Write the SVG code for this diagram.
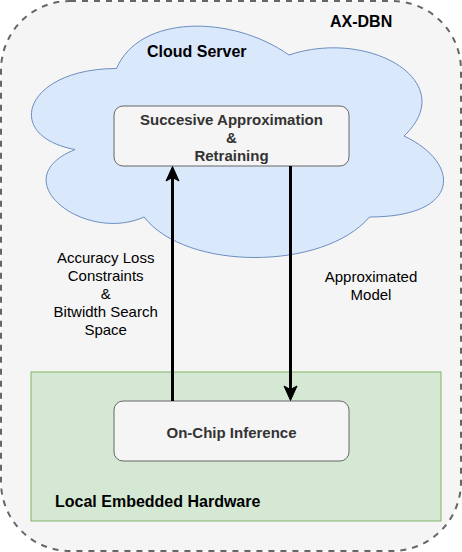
<svg xmlns="http://www.w3.org/2000/svg" width="462" height="552" viewBox="0 0 462 552">
<style>
text{font-family:"Liberation Sans",Arial,Helvetica,sans-serif}
.title{font-size:16px;font-weight:bold;fill:#000}
.box{fill:#f5f5f5;stroke:#666666;stroke-width:1}
.boxt{font-size:15px;font-weight:bold;fill:#333333;text-anchor:middle}
.lbl{font-size:15px;fill:#000;text-anchor:middle}
.edge{stroke:#000;stroke-width:3;fill:none}
.head{fill:#000;stroke:#000;stroke-width:1}
</style>
<g id="ax-dbn">
<rect x="1" y="1" width="460" height="550" rx="69" ry="69" fill="#f5f5f5" stroke="#666666" stroke-width="2" stroke-dasharray="6 6"/>
<text class="title" x="330" y="27">AX-DBN</text>
</g>
<g id="cloud-server">
<path d="M116.5,68.5 C24.5,68.5 1.5,136 75.1,149.5 C1.5,179.2 84.3,244 144.1,217 C185.5,271 323.5,271 369.5,217 C461.5,217 461.5,163 404,136 C461.5,82 369.5,28 289,55 C231.5,14.5 139.5,14.5 116.5,68.5 Z" fill="#dae8fc" stroke="#6c8ebf" stroke-width="1"/>
<text class="title" x="147" y="57">Cloud Server</text>
</g>
<g id="local-embedded-hardware">
<rect x="31" y="372" width="410" height="149" fill="#d5e8d4" stroke="#82b366" stroke-width="1"/>
<text class="title" x="55" y="507">Local Embedded Hardware</text>
</g>
<g id="approximation">
<rect class="box" x="114" y="106" width="235" height="60" rx="9" ry="9"/>
<text class="boxt" x="231.5" y="124.5">Succesive Approximation</text>
<text class="boxt" x="231.5" y="142.5">&amp;</text>
<text class="boxt" x="231.5" y="160.5">Retraining</text>
</g>
<g id="inference">
<rect class="box" x="114" y="401" width="235" height="60" rx="9" ry="9"/>
<text class="boxt" x="231.5" y="437.5">On-Chip Inference</text>
</g>
<g id="connectors">
<line class="edge" x1="172.5" y1="401" x2="172.5" y2="176"/>
<polygon class="head" points="172.5,166.5 179,181 172.5,177.5 166,181"/>
<line class="edge" x1="290.5" y1="166" x2="290.5" y2="391"/>
<polygon class="head" points="290.5,400.5 297,386 290.5,389.5 284,386"/>
<text class="lbl" x="105.7" y="263.3">Accuracy Loss</text>
<text class="lbl" x="105.7" y="281.3">Constraints</text>
<text class="lbl" x="105.7" y="299.3">&amp;</text>
<text class="lbl" x="105.7" y="317.3">Bitwidth Search</text>
<text class="lbl" x="105.7" y="335.3">Space</text>
<text class="lbl" x="371" y="282">Approximated</text>
<text class="lbl" x="371" y="300">Model</text>
</g>
</svg>
